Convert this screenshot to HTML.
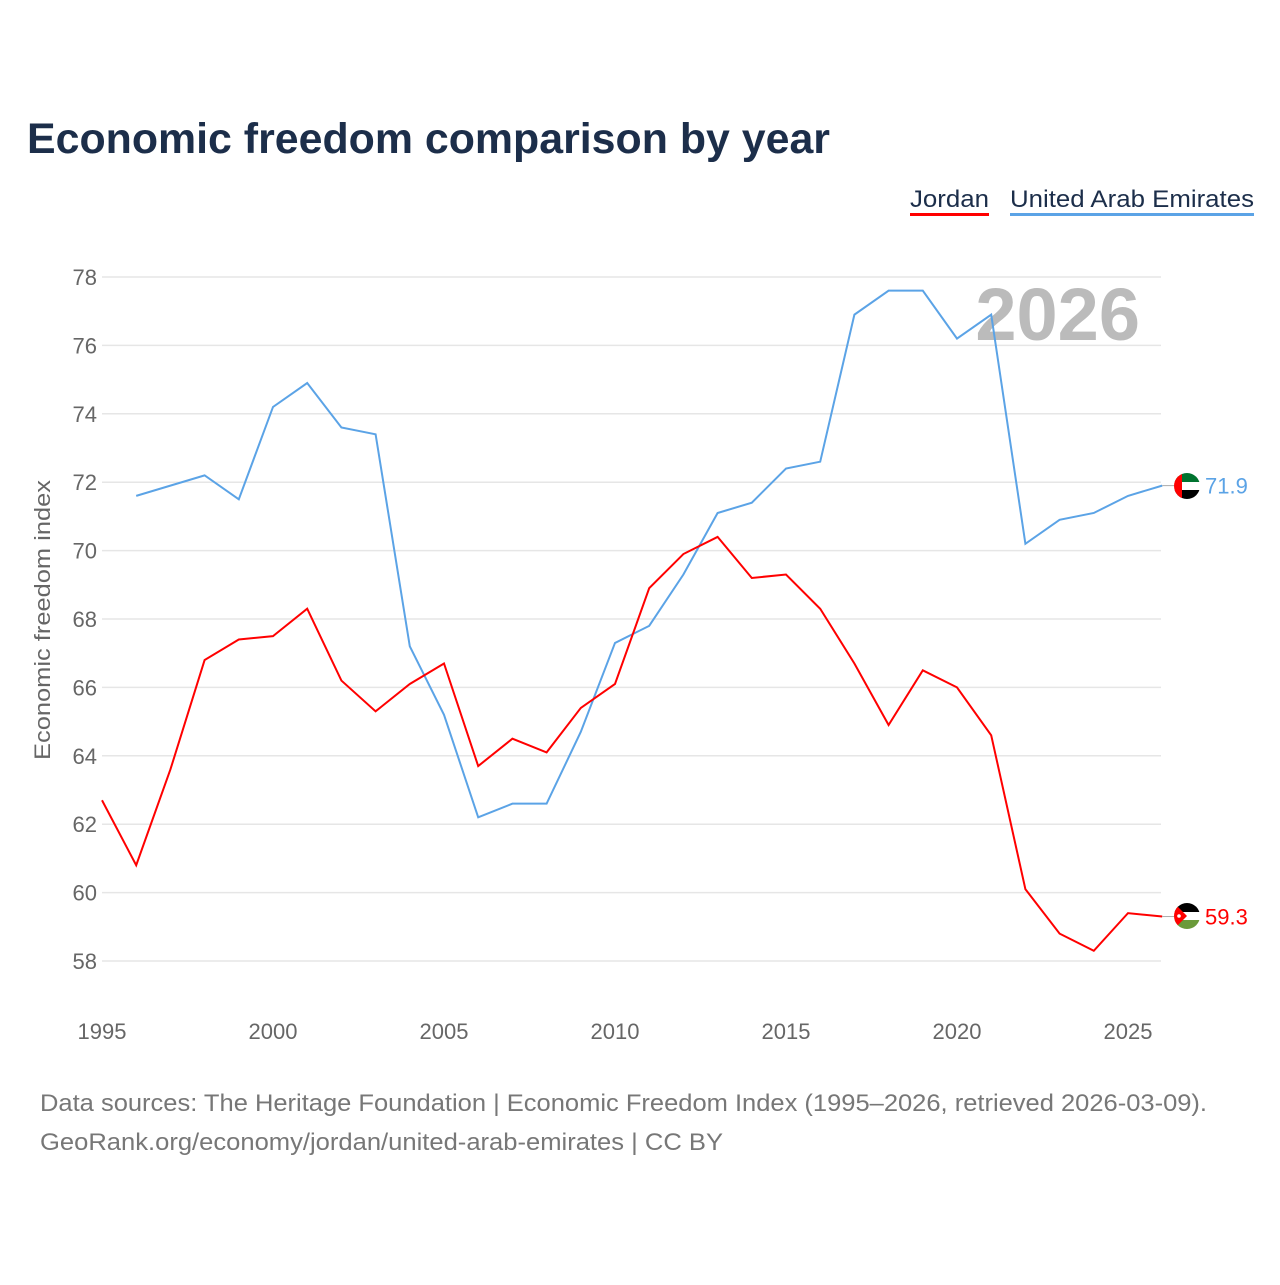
<!DOCTYPE html>
<html><head><meta charset="utf-8"><style>
body{margin:0;background:#fff;font-family:"Liberation Sans",sans-serif}
#wrap{position:relative;width:1280px;height:1280px}
</style></head><body>
<div id="wrap">
<svg id="chart" width="1280" height="1280" xmlns="http://www.w3.org/2000/svg">
<defs>
<clipPath id="cu"><circle cx="1187" cy="486" r="13"/></clipPath>
<clipPath id="cj"><circle cx="1187" cy="916" r="13"/></clipPath>
</defs>
<text x="27" y="153" font-size="43" font-weight="bold" fill="#1c2e4a" textLength="803" lengthAdjust="spacingAndGlyphs">Economic freedom comparison by year</text>
<g><text x="910" y="207" font-size="24" fill="#1c2e4a" textLength="79" lengthAdjust="spacingAndGlyphs">Jordan</text><rect x="910" y="213" width="79" height="3" fill="#f00"/></g>
<g><text x="1010" y="207" font-size="24" fill="#1c2e4a" textLength="244" lengthAdjust="spacingAndGlyphs">United Arab Emirates</text><rect x="1010" y="213" width="244" height="3" fill="#5ba3e6"/></g>
<text x="1140" y="340" font-size="74" font-weight="bold" fill="#bbb" text-anchor="end">2026</text>
<g id="grid"></g><g id="xt"></g><g id="lines"></g>
<g clip-path="url(#cu)">
<rect x="1174" y="473" width="26" height="9" fill="#00732f"/><rect x="1174" y="482" width="26" height="8" fill="#fff"/><rect x="1174" y="490" width="26" height="9" fill="#000"/><rect x="1174" y="473" width="8" height="26" fill="#f00"/>
</g>
<g clip-path="url(#cj)">
<rect x="1174" y="903" width="26" height="9" fill="#000"/><rect x="1174" y="912" width="26" height="8" fill="#fff"/><rect x="1174" y="920" width="26" height="9" fill="#6a9a3a"/><polygon points="1174,903 1187,916 1174,929" fill="#f00"/><circle cx="1179" cy="916" r="1.8" fill="#fff"/>
</g>
<text transform="translate(50,620) rotate(-90)" font-size="22" fill="#666" text-anchor="middle" textLength="280" lengthAdjust="spacingAndGlyphs">Economic freedom index</text>
<text x="40" y="1111" font-size="24" fill="#777" textLength="1167" lengthAdjust="spacingAndGlyphs">Data sources: The Heritage Foundation | Economic Freedom Index (1995–2026, retrieved 2026-03-09).</text>
<text x="40" y="1150" font-size="24" fill="#777" textLength="683" lengthAdjust="spacingAndGlyphs">GeoRank.org/economy/jordan/united-arab-emirates | CC BY</text>
</svg></div>
<script>
const years=[1995,1996,1997,1998,1999,2000,2001,2002,2003,2004,2005,2006,2007,2008,2009,2010,2011,2012,2013,2014,2015,2016,2017,2018,2019,2020,2021,2022,2023,2024,2025,2026];
const jordan=[62.7,60.8,63.6,66.8,67.4,67.5,68.3,66.2,65.3,66.1,66.7,63.7,64.5,64.1,65.4,66.1,68.9,69.9,70.4,69.2,69.3,68.3,66.7,64.9,66.5,66.0,64.6,60.1,58.8,58.3,59.4,59.3];
const uae=[null,71.6,71.9,72.2,71.5,74.2,74.9,73.6,73.4,67.2,65.2,62.2,62.6,62.6,64.7,67.3,67.8,69.3,71.1,71.4,72.4,72.6,76.9,77.6,77.6,76.2,76.9,70.2,70.9,71.1,71.6,71.9];
const yTicks=[58,60,62,64,66,68,70,72,74,76,78];
const xTicks=[1995,2000,2005,2010,2015,2020,2025];
const NS="http://www.w3.org/2000/svg";
const X=y=>102+(y-1995)*34.2, Y=v=>961-(v-58)*34.2;
function mk(t,a,p){const e=document.createElementNS(NS,t);for(const k in a)e.setAttribute(k,a[k]);p.appendChild(e);return e;}
const grid=document.getElementById('grid');
yTicks.forEach(v=>{
 const l=mk('line',{x1:102,x2:1161,y1:Y(v),y2:Y(v),stroke:'#e6e6e6','stroke-width':1.5},grid);
 
 
 const t=mk('text',{x:97,y:Y(v)+8,'font-size':22,fill:'#666','text-anchor':'end'},grid);t.textContent=v;
 
 
});
const xt=document.getElementById('xt');
xTicks.forEach(v=>{
 const t=mk('text',{x:X(v),y:1039,'font-size':22,fill:'#666','text-anchor':'middle'},xt);t.textContent=v;
 
 
});
const lines=document.getElementById('lines');
function series(vals,color,name){
 let d='';vals.forEach((v,i)=>{if(v==null)return;d+=(d?'L':'M')+X(years[i])+','+Y(v);});
 const p=mk('path',{d:d,fill:'none',stroke:color,'stroke-width':2},lines);
 
 
 const last=vals[vals.length-1];
 mk('line',{x1:X(2026),x2:1178,y1:Y(last),y2:Y(last),stroke:'#aaa','stroke-width':1},lines);
 const t=mk('text',{x:1205,y:Y(last)+8,'font-size':22,fill:color},lines);t.textContent=last.toFixed(1);
 
 
}
series(uae,'#5ba3e6','uae');
series(jordan,'#f00','jordan');
</script>
</body></html>
